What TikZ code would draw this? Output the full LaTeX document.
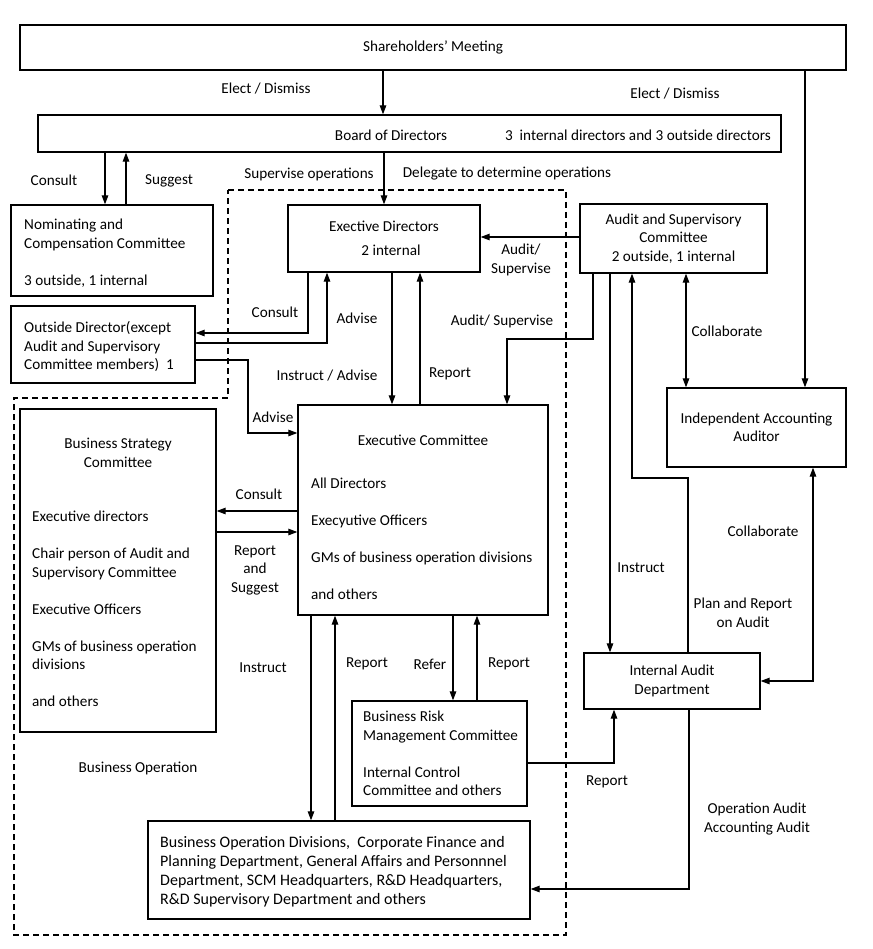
\documentclass[tikz,border=0pt]{standalone}
\usepackage{fontspec}
\setmainfont{Carlito}
\usepackage{tikz}
\usetikzlibrary{
  positioning,
  calc,
  arrows.meta
}

\begin{document}
\begin{tikzpicture}[x=1pt,y=-1pt,
  font=\fontsize{15.2}{18.5}\selectfont,
  box/.style={draw,line width=1.3pt,inner sep=0pt},
  txt/.style={inner sep=0pt,align=left,anchor=west},
  arr/.style={line width=1.2pt,-{Triangle[length=9pt,width=6.5pt]}},
  arrs/.style={line width=1.2pt,{Triangle[length=9pt,width=6.5pt]}-{Triangle[length=9pt,width=6.5pt]}}]
  \useasboundingbox (0,0) rectangle (872,949);

  \draw[line width=1.2pt,dash pattern=on 6pt off 4pt]
    (228,190) -- (566,190) -- (566,935) -- (14,935) -- (14,398) -- (228,398) -- cycle;

  \node[box,minimum width=826pt,minimum height=45pt] (share) at (433,47.5) {Shareholders’ Meeting};
  \node[box,minimum width=743pt,minimum height=37pt] (board) at (409.5,133.5) {};
  \node (boardname) at (391,135) {Board of Directors};
  \node (boardmem) at (638,135) {3\ \ internal directors and 3 outside directors};

  \node[box,minimum width=202pt,minimum height=91pt] (nom) at (112,250.5) {};
  \node[txt] (nomtxt) at (24,253) {Nominating and\\Compensation Committee\\[18.5pt]3 outside, 1 internal};
  \node[box,minimum width=184pt,minimum height=77pt] (outdir) at (103,344.5) {};
  \node[txt] (outdirtxt) at (24,346.5) {Outside Director(except\\Audit and Supervisory\\Committee members)\ \ 1};

  \node[box,minimum width=192pt,minimum height=67pt,align=center] (execdir) at (384,238.5)
    {Exective Directors\\[5pt]\hspace*{14pt}2 internal};
  \node[box,minimum width=187pt,minimum height=69pt,align=center] (audit) at (673.5,238.5)
    {Audit and Supervisory\\Committee\\2 outside, 1 internal};
  \node[box,minimum width=179pt,minimum height=79pt,align=center] (indep) at (756.5,427.5)
    {Independent Accounting\\Auditor};

  \node[box,minimum width=250pt,minimum height=210pt] (execcom) at (423,510) {};
  \node (execcomtitle) at (423,440) {Executive Committee};
  \node[txt] (execcomtxt) at (311,539)
    {All Directors\\[18.5pt]Execyutive Officers\\[18.5pt]GMs of business operation divisions\\[18.5pt]and others};

  \node[box,minimum width=196pt,minimum height=323pt] (bsc) at (118,570.5) {};
  \node[align=center] (bsctitle) at (118,453) {Business Strategy\\Committee};
  \node[txt] (bsctxt) at (32,609)
    {Executive directors\\[18.5pt]Chair person of Audit and\\Supervisory Committee\\[18.5pt]Executive Officers\\[18.5pt]GMs of business operation\\divisions\\[18.5pt]and others};

  \node[box,minimum width=176pt,minimum height=56pt,align=center] (iad) at (672,681)
    {Internal Audit\\Department};
  \node[box,minimum width=175pt,minimum height=105pt] (brm) at (439.5,753.5) {};
  \node[txt] (brmtxt) at (363,753.5)
    {Business Risk\\Management Committee\\[18.5pt]Internal Control\\Committee and others};
  \node[box,minimum width=382pt,minimum height=98pt] (bod) at (339,870) {};
  \node[txt,font=\fontsize{16}{19}\selectfont] (bodtxt) at (160,871.5)
    {Business Operation Divisions,\ \ Corporate Finance and\\Planning Department, General Affairs and Personnnel\\Department, SCM Headquarters, R\&D Headquarters,\\R\&D Supervisory Department and others};

  \foreach \t/\x/\y [count=\k] in {
    {Elect / Dismiss}/266/89, {Elect / Dismiss}/675/94,
    Consult/54/180, Suggest/169/181,
    {Supervise operations}/309/174, {Delegate to determine operations}/507/174,
    {Audit/\\Supervise}/521/260, Consult/275/312, Advise/357/318,
    {Instruct / Advise}/327/376, Report/450/374, {Audit/ Supervise}/502/321,
    Collaborate/727/331, Advise/273/417, Consult/259/494,
    {Report\\and\\Suggest}/255/570, Instruct/641/568,
    {Plan and Report\\on Audit}/743/613, Collaborate/763/531,
    Instruct/263/668, Report/367/664, Refer/430/664, Report/509/664,
    {Business Operation}/138/768, Report/607/782,
    {Operation Audit\\Accounting Audit}/757/819}
  \node[align=center,inner sep=0pt] (L_\k) at (\x,\y) {\t};

  \draw[arr] (383,0 |- share.south) -- (383,0 |- board.north);
  \draw[arr] (805,0 |- share.south) -- (805,0 |- indep.north);
  \draw[arr] (105,0 |- board.south) -- (105,0 |- nom.north);
  \draw[arr] (126,0 |- nom.north) -- (126,0 |- board.south);
  \draw[arr] (execdir.north |- board.south) -- (execdir.north);
  \draw[arr] (308,0 |- execdir.south) |- (outdir.east |- 0,333);
  \draw[arr] (outdir.east |- 0,343) -| (327,0 |- execdir.south);
  \draw[arr] (outdir.east |- 0,360) -| (248,433) -- (execcom.west |- 0,433);
  \draw[arr] (audit.west |- 0,237) -- (execdir.east |- 0,237);
  \draw[arr] (593,0 |- audit.south) |- (507,339) -- (507,0 |- execcom.north);
  \draw[arr] (392,0 |- execdir.south) -- (392,0 |- execcom.north);
  \draw[arr] (420,0 |- execcom.north) -- (420,0 |- execdir.south);
  \draw[arrs] (686,0 |- audit.south) -- (686,0 |- indep.north);
  \draw[arr] (610,0 |- audit.south) -- (610,0 |- iad.north);
  \draw[arr] (688,0 |- iad.north) |- (632,478) -- (632,0 |- audit.south);
  \draw[arrs] (813,0 |- indep.south) |- (iad.east);
  \draw[arr] (execcom.west |- 0,511) -- (bsc.east |- 0,511);
  \draw[arr] (bsc.east |- 0,532) -- (execcom.west |- 0,532);
  \draw[arr] (311,0 |- execcom.south) -- (311,0 |- bod.north);
  \draw[arr] (335,0 |- bod.north) -- (335,0 |- execcom.south);
  \draw[arr] (453,0 |- execcom.south) -- (453,0 |- brm.north);
  \draw[arr] (477,0 |- brm.north) -- (477,0 |- execcom.south);
  \draw[arr] (brm.east |- 0,763) -| (614,0 |- iad.south);
  \draw[arr] (689,0 |- iad.south) |- (bod.east |- 0,889);
\end{tikzpicture}
\end{document}
